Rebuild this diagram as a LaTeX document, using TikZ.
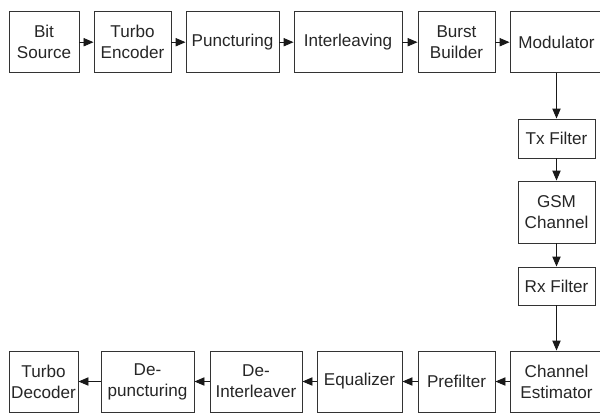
\documentclass[tikz,border=0pt]{standalone}
\usepackage{fontspec}
\setmainfont{Liberation Sans}
\usetikzlibrary{arrows.meta}
\begin{document}
\begin{tikzpicture}[x=0.03cm, y=-0.03cm,
    every node/.style={rectangle, draw=black!80, line width=0.8pt, text=black!85,
        align=center, inner sep=0pt, font=\fontsize{14.6}{17.8}\selectfont},
    freccia/.style={draw=black!90, line width=0.8pt, -{Triangle[length=0.3cm, width=0.25cm]}}]
            \useasboundingbox (0,0) rectangle (600,413);

            % Catena di trasmissione
            \node (BS) at (44,42.2) [minimum width=2.1cm, minimum height=1.83cm] {Bit\\Source};
            \node (TE) at (132.5,42.2) [minimum width=2.31cm, minimum height=1.83cm] {Turbo\\Encoder};
            \node (PU) at (232.5,42.2) [minimum width=2.79cm, minimum height=1.83cm] {Puncturing};
            \node (IL) at (348,42.2) [minimum width=3.24cm, minimum height=1.83cm] {Interleaving};
            \node (BB) at (456.5,42.2) [minimum width=2.31cm, minimum height=1.83cm] {Burst\\Builder};
            \node (MOD) at (556.5,42.2) [minimum width=2.79cm, minimum height=1.83cm] {Modulator};

            % Canale
            \node (TX) at (556.5,138.5) [minimum width=2.31cm, minimum height=1.17cm] {Tx Filter};
            \node (CH) at (556.5,212) [minimum width=2.31cm, minimum height=1.86cm] {GSM\\Channel};
            \node (RX) at (556.5,286) [minimum width=2.31cm, minimum height=1.14cm] {Rx Filter};

            % Catena di ricezione
            \node (CE) at (556.5,381.5) [minimum width=2.79cm, minimum height=1.83cm] {Channel\\Estimator};
            \node (PF) at (456.5,381.5) [minimum width=2.31cm, minimum height=1.83cm] {Prefilter};
            \node (EQ) at (359.5,381.5) [minimum width=2.55cm, minimum height=1.83cm] {Equalizer};
            \node (DI) at (256,381.5) [minimum width=2.76cm, minimum height=1.83cm] {De-\\Interleaver};
            \node (DP) at (147.5,381.5) [minimum width=2.79cm, minimum height=1.83cm] {De-\\puncturing};
            \node (TD) at (43.5,381.5) [minimum width=2.07cm, minimum height=1.83cm] {Turbo\\Decoder};

            % Collegamenti
            \draw[freccia] (BS) -- (TE);
            \draw[freccia] (TE) -- (PU);
            \draw[freccia] (PU) -- (IL);
            \draw[freccia] (IL) -- (BB);
            \draw[freccia] (BB) -- (MOD);
            \draw[freccia] (MOD) -- (TX);
            \draw[freccia] (TX) -- (CH);
            \draw[freccia] (CH) -- (RX);
            \draw[freccia] (RX) -- (CE);
            \draw[freccia] (CE) -- (PF);
            \draw[freccia] (PF) -- (EQ);
            \draw[freccia] (EQ) -- (DI);
            \draw[freccia] (DI) -- (DP);
            \draw[freccia] (DP) -- (TD);
        \end{tikzpicture}
\end{document}
